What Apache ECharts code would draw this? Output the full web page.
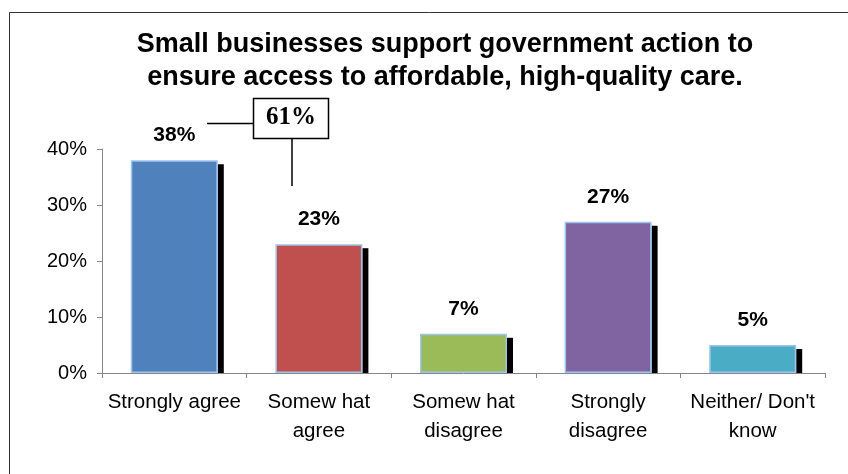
<!DOCTYPE html>
<html>
<head>
<meta charset="utf-8">
<script src="https://cdn.jsdelivr.net/npm/echarts@6/dist/echarts.min.js"></script>
<style>
html,body{margin:0;padding:0;background:#fff;}
#chart{width:848px;height:474px;}
</style>
</head>
<body>
<div id="chart"></div>
<script>
const titleText = 'Small businesses support government action to\nensure access to affordable, high-quality care.';
const categories = ['Strongly agree', 'Somew hat\nagree', 'Somew hat\ndisagree', 'Strongly\ndisagree', "Neither/ Don't\nknow"];
const values = [38, 23, 7, 27, 5];
const barColors = ['#4F81BD', '#C0504D', '#9BBB59', '#8064A2', '#4BACC6'];
const yTicks = {min: 0, max: 40, interval: 10};
const calloutText = '61%';

const chart = echarts.init(document.getElementById('chart'), null, {renderer: 'canvas'});
const BAR_W = 87;
const option = {
  animation: false,
  backgroundColor: '#fff',
  title: {
    text: titleText,
    left: 440,
    top: 23,
    textAlign: 'center',
    textStyle: {fontFamily: 'Liberation Sans, Arial, sans-serif', fontWeight: 'bold', fontSize: 27, lineHeight: 33, color: '#000'}
  },
  grid: {left: 102, right: 23, top: 149, bottom: 101},
  xAxis: {
    type: 'category',
    data: categories,
    axisLine: {lineStyle: {color: '#868686', width: 1}},
    axisTick: {show: true, length: 5, lineStyle: {color: '#868686'}},
    axisLabel: {fontFamily: 'Liberation Sans, Arial, sans-serif', fontSize: 20.5, lineHeight: 29, color: '#000', margin: 15, interval: 0}
  },
  yAxis: {
    type: 'value',
    min: yTicks.min, max: yTicks.max, interval: yTicks.interval,
    axisLine: {show: true, lineStyle: {color: '#868686', width: 1}},
    axisTick: {show: true, length: 5, lineStyle: {color: '#868686'}},
    splitLine: {show: false},
    axisLabel: {formatter: '{value}%', fontFamily: 'Liberation Sans, Arial, sans-serif', fontSize: 20, color: '#000', margin: 15}
  },
  series: [
    {
      type: 'custom',
      z: 1,
      data: values.map((v, i) => [i, v]),
      renderItem: function (params, api) {
        const top = api.coord([api.value(0), api.value(1)]);
        const base = api.coord([api.value(0), 0]);
        return {
          type: 'rect',
          shape: {x: top[0] + BAR_W / 2, y: top[1] + 4, width: 6, height: base[1] - top[1] - 4},
          style: {fill: '#000'}
        };
      }
    },
    {
      type: 'bar',
      z: 2,
      barWidth: BAR_W,
      data: values.map((v, i) => ({value: v, itemStyle: {color: barColors[i]}})),
      itemStyle: {borderColor: '#9CC5F0', borderWidth: 1.5},
      label: {
        show: true, position: 'top', distance: 14,
        formatter: '{c}%',
        fontFamily: 'Liberation Sans, Arial, sans-serif', fontWeight: 'bold', fontSize: 21, color: '#000'
      }
    }
  ],
  graphic: [
    {type: 'rect', shape: {x: 9.5, y: 12.5, width: 860, height: 480}, style: {fill: null, stroke: '#333', lineWidth: 1}, silent: true},
    {type: 'line', shape: {x1: 207, y1: 123.5, x2: 253, y2: 123.5}, style: {stroke: '#000', lineWidth: 1.5}},
    {type: 'line', shape: {x1: 292, y1: 138, x2: 292, y2: 186}, style: {stroke: '#000', lineWidth: 1.5}},
    {type: 'rect', shape: {x: 253.5, y: 98.5, width: 75, height: 40}, style: {fill: '#fff', stroke: '#000', lineWidth: 1.5}},
    {type: 'text', x: 291, y: 118, style: {text: calloutText, font: 'bold 25px "Liberation Serif", "Times New Roman", serif', fill: '#000', textAlign: 'center', textVerticalAlign: 'middle'}}
  ]
};
chart.setOption(option);
</script>
</body>
</html>
